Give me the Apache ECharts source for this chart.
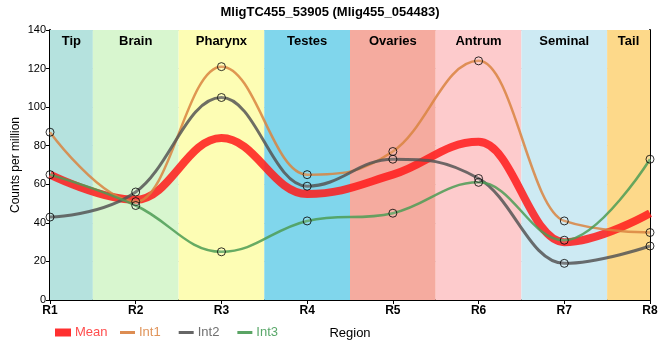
<!DOCTYPE html>
<html><head><meta charset="utf-8">
<script src="https://cdn.jsdelivr.net/npm/echarts@6/dist/echarts.min.js"></script>
<style>html,body{margin:0;padding:0;background:#fff}#c{width:660px;height:360px}</style>
</head><body><div id="c"></div>
<script>
const regions = [1,2,3,4,5,6,7,8];
const tickLabels = ['R1','R2','R3','R4','R5','R6','R7','R8'];
const bandNames = ['Tip','Brain','Pharynx','Testes','Ovaries','Antrum','Seminal','Tail'];
const bandColors = ['#b5e2de','#d8f6cf','#fdfdb4','#80d6ec','#f5ab9f','#fdcbcc','#cdeaf3','#fdd98a'];
const mean = [65,52,84,55,65,82,30,45];
const int1 = [87,51,121,65,77,124,41,35];
const int2 = [43,56,105,59,73,63,19,28];
const int3 = [65,49,25,41,45,61,31,73];

const bands = bandNames.map((n,i)=>[
  {name:n, xAxis: Math.max(1,i+0.5), itemStyle:{color:bandColors[i]}},
  {xAxis: Math.min(8,i+1.5)}
]);
const pts = a => a.map((v,i)=>[regions[i],v]);

// spline through pixel points: control points at 0.4 of each segment, flattened at local extremes
function splinePath(P){
  const n=P.length, L=[], R=[];
  const sm=1.5, den=sm+1;
  for(let i=0;i<n;i++){
    if(i===0||i===n-1){L[i]=P[i];R[i]=P[i];continue;}
    const [x,y]=P[i],[lx,ly]=P[i-1],[nx,ny]=P[i+1];
    const lcx=(sm*x+lx)/den, rcx=(sm*x+nx)/den;
    let lcy=(sm*y+ly)/den, rcy=(sm*y+ny)/den;
    const corr=(rcy-lcy)*(rcx-x)/(rcx-lcx)+y-rcy;
    lcy+=corr; rcy+=corr;
    if(lcy>ly&&lcy>y){lcy=Math.max(ly,y);rcy=2*y-lcy;}
    else if(lcy<ly&&lcy<y){lcy=Math.min(ly,y);rcy=2*y-lcy;}
    if(rcy>ny&&rcy>y){rcy=Math.max(ny,y);lcy=2*y-rcy;}
    else if(rcy<ny&&rcy<y){rcy=Math.min(ny,y);lcy=2*y-rcy;}
    L[i]=[lcx,lcy];R[i]=[rcx,rcy];
  }
  let d='M'+P[0][0]+','+P[0][1];
  for(let i=1;i<n;i++){
    d+='C'+R[i-1][0]+','+R[i-1][1]+' '+L[i][0]+','+L[i][1]+' '+P[i][0]+','+P[i][1];
  }
  return d;
}
function curveSeries(name,arr,color,width,opacity,z){
  return {name,type:'custom',z,data:pts(arr),encode:{x:0,y:1},itemStyle:{color},silent:true,
    renderItem:(params,api)=>{
      if(params.dataIndex!==0) return null;
      const P=arr.map((v,i)=>api.coord([regions[i],v]));
      return {type:'path',shape:{pathData:splinePath(P)},
        style:{stroke:color,lineWidth:width,fill:null,opacity,lineJoin:'round'}};
    }};
}
const markerPts = [].concat(pts(int1),pts(int2),pts(int3));
const lt = {fontSize:13,fontFamily:'Liberation Sans',padding:[0,0,0,-1]};
const chart = echarts.init(document.getElementById('c'),null,{renderer:'canvas'});
chart.setOption({
  animation:false,
  title:{text:'MligTC455_53905 (Mlig455_054483)',left:'center',top:1,
    textStyle:{fontSize:13,fontWeight:'bold',color:'#000',fontFamily:'Liberation Sans'}},
  grid:{left:50,right:10,top:30,bottom:60,outerBoundsMode:'none',containLabel:false},
  legend:[
    {data:[{name:'Mean',icon:'rect',itemStyle:{color:'#ff3030',borderWidth:0}}],left:55,top:326,padding:0,itemWidth:16,itemHeight:8,
     textStyle:Object.assign({color:'#ff4d4d'},lt)},
    {data:[{name:'Int1',icon:'rect',itemStyle:{color:'#dd8d52',borderWidth:0},textStyle:{color:'#e0945a'}},
           {name:'Int2',icon:'rect',itemStyle:{color:'#666',borderWidth:0},textStyle:{color:'#707070'}},
           {name:'Int3',icon:'rect',itemStyle:{color:'#5aa464',borderWidth:0},textStyle:{color:'#5aa86a'}}],
     left:120,top:326,padding:0,itemWidth:15,itemHeight:3,itemGap:18,
     textStyle:lt}
  ],
  xAxis:{type:'value',min:1,max:8,interval:1,name:'Region',nameLocation:'middle',nameGap:27,nameMoveOverlap:false,
    nameTextStyle:{color:'#000',fontSize:13,fontFamily:'Liberation Sans'},
    axisLine:{lineStyle:{color:'#000',width:2}},axisTick:{show:true,length:4,lineStyle:{color:'#000'}},
    axisLabel:{formatter:v=>tickLabels[v-1],color:'#000',fontWeight:'bold',fontSize:12,fontFamily:'Liberation Sans',margin:5},
    splitLine:{show:true,lineStyle:{color:'#ccc',width:1}}},
  yAxis:[{type:'value',min:0,max:140,interval:20,name:'Counts per million',nameLocation:'middle',nameGap:28,nameMoveOverlap:false,
    nameTextStyle:{color:'#000',fontSize:12,fontFamily:'Liberation Sans'},
    axisLine:{show:true,lineStyle:{color:'#000',width:2}},axisTick:{show:true,length:4,lineStyle:{color:'#000'}},
    axisLabel:{color:'#000',fontSize:11,fontFamily:'Liberation Sans',margin:4},
    splitLine:{show:true,lineStyle:{color:'#ccc',width:1}}},
    {type:'value',min:0,max:140,interval:20,position:'right',axisLine:{show:true,lineStyle:{color:'#000',width:2}},
     axisLabel:{show:false},axisTick:{show:false},splitLine:{show:false}}],
  series:[
    {name:'bands',type:'line',data:[],z:1,
     markArea:{silent:true,label:{position:'insideTop',distance:5,color:'#000',fontWeight:'bold',fontSize:13,fontFamily:'Liberation Sans'},
       data:bands}},
    curveSeries('Mean',mean,'#ff1a1a',8,0.85,3),
    curveSeries('Int1',int1,'#d9843f',2.5,0.85,4),
    curveSeries('Int2',int2,'#555',3,0.85,4),
    curveSeries('Int3',int3,'#4c9c55',2.5,0.85,4),
    {name:'markers',type:'scatter',data:markerPts,z:10,symbol:'circle',symbolSize:8,silent:true,
     itemStyle:{color:'rgba(255,255,255,0.15)',borderColor:'#000',borderWidth:1}}
  ]
});
</script></body></html>
